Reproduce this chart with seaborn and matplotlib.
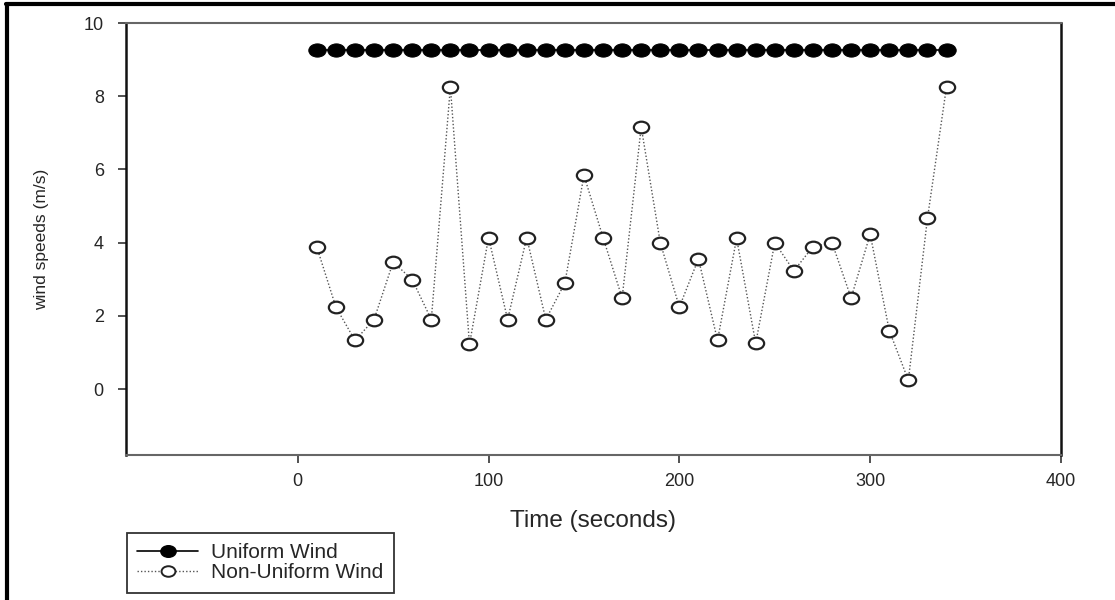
import matplotlib
matplotlib.use("Agg")
import matplotlib.pyplot as plt
from matplotlib.lines import Line2D
from matplotlib.path import Path
import seaborn as sns
import pandas as pd

# ---- data ----
time_s = [10, 20, 30, 40, 50, 60, 70, 80, 90, 100, 110, 120, 130, 140, 150, 160, 170,
          180, 190, 200, 210, 220, 230, 240, 250, 260, 270, 280, 290, 300, 310, 320, 330, 340]
uniform_wind = [9.25] * 34
non_uniform_wind = [3.88, 2.24, 1.33, 1.90, 3.47, 2.99, 1.90, 8.26, 1.22, 4.14, 1.90, 4.14,
                    1.90, 2.90, 5.84, 4.14, 2.49, 7.16, 4.00, 2.24, 3.56, 1.33, 4.12, 1.25,
                    4.00, 3.23, 3.89, 4.00, 2.49, 4.23, 1.60, 0.24, 4.66, 8.26]
x_ticks = [0, 100, 200, 300, 400]
y_ticks = [0, 2, 4, 6, 8, 10]
series_labels = ["Uniform Wind", "Non-Uniform Wind"]

df_u = pd.DataFrame({"t": time_s, "v": uniform_wind})
df_n = pd.DataFrame({"t": time_s, "v": non_uniform_wind})

# slightly flattened circle marker (reference markers are wider than tall)
_c = Path.unit_circle()
ellipse = Path(_c.vertices * [1.0, 0.76], _c.codes)

sns.set_style("white")
plt.rcParams["font.family"] = ["Liberation Sans", "DejaVu Sans"]

fig = plt.figure(figsize=(11.15, 6), dpi=100)
ax = fig.add_axes([126 / 1115, 1 - 455 / 600, (1061 - 126) / 1115, (455 - 23) / 600])

sns.lineplot(data=df_u, x="t", y="v", ax=ax, color="black", linewidth=1.2,
             marker=ellipse, markersize=12.5, markerfacecolor="black",
             markeredgecolor="black", label=series_labels[0])
sns.lineplot(data=df_n, x="t", y="v", ax=ax, color="#555555", linewidth=1.0,
             linestyle=(0, (1, 1.5)), marker=ellipse, markersize=11,
             markerfacecolor="white", markeredgecolor="#222222",
             markeredgewidth=1.6, label=series_labels[1])

ax.set_xlim(-90, 400)
ax.set_ylim(-1.8, 10)
ax.set_xticks(x_ticks)
ax.set_yticks(y_ticks)
ax.tick_params(axis="both", which="both", direction="out", length=6, width=1.2,
               color="#333333", labelsize=13, left=True, bottom=True, pad=7)
ax.tick_params(axis="y", pad=10)

for side in ["left", "right"]:
    ax.spines[side].set_color("#111111")
    ax.spines[side].set_linewidth(1.8)
for side in ["top", "bottom"]:
    ax.spines[side].set_color("#666666")
    ax.spines[side].set_linewidth(1.5)

ax.set_xlabel("Time (seconds)", fontsize=17.5, labelpad=14)
ax.set_ylabel("wind speeds (m/s)", fontsize=12.5, labelpad=25)

ax.get_legend().remove()
handles = [
    Line2D([], [], color="black", linewidth=1.2, marker=ellipse, markersize=11,
           markerfacecolor="black", markeredgecolor="black"),
    Line2D([], [], color="#555555", linewidth=1.0, linestyle=(0, (1, 1.5)), marker=ellipse,
           markersize=10, markerfacecolor="white", markeredgecolor="#222222",
           markeredgewidth=1.4),
]
leg = fig.legend(handles, series_labels, loc="upper left",
                 bbox_to_anchor=(127 / 1115, 1 - 533 / 600), fontsize=15,
                 frameon=True, fancybox=False, borderaxespad=0, handlelength=2.9,
                 handletextpad=0.65, labelspacing=0.05, borderpad=0.5)
leg.get_frame().set_edgecolor("black")
leg.get_frame().set_linewidth(1.3)

# outer frame lines (left and top)
fig.add_artist(Line2D([7 / 1115, 7 / 1115], [0, 1 - 4 / 600], transform=fig.transFigure,
                      color="black", linewidth=3))
fig.add_artist(Line2D([6 / 1115, 1], [1 - 4 / 600, 1 - 4 / 600], transform=fig.transFigure,
                      color="black", linewidth=3))

fig.savefig("out.png", dpi=100)
